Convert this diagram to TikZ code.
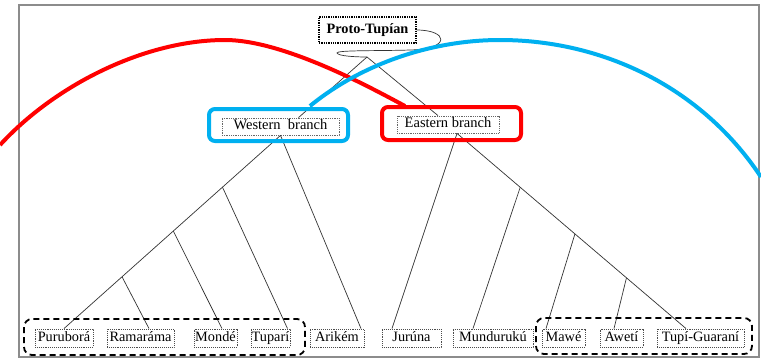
\documentclass[tikz,border=0pt]{standalone}
\usepackage{fontspec}
\setmainfont{Liberation Serif}
\usetikzlibrary{calc}
\definecolor{hlblue}{RGB}{0,176,240}
\definecolor{hlred}{RGB}{255,0,0}
\definecolor{framegray}{RGB}{140,140,140}
\begin{document}
\begin{tikzpicture}[x=1pt,y=-1pt,
  leaf/.style={draw=black!70, densely dotted, line width=0.9pt, minimum height=18pt, inner sep=0pt,
    font=\fontsize{14.3}{16}\selectfont, text height=9.8pt, text depth=3pt},
  branchbox/.style={draw=black!60, densely dotted, line width=0.8pt, minimum height=17pt, inner sep=0pt,
    font=\fontsize{14.5}{16}\selectfont, text height=9.8pt, text depth=3pt},
  rootbox/.style={draw=black, densely dotted, line width=1.3pt, minimum height=26pt, minimum width=97pt,
    inner sep=0pt, font=\fontsize{14.3}{16}\selectfont\bfseries},
  tree/.style={draw=black!80, line width=0.7pt},
  hl/.style={draw=#1, line width=4pt, rounded corners=6pt, inner sep=0pt},
  grp/.style={draw=black, line width=1.8pt, dash pattern=on 6pt off 4pt, rounded corners=8pt},
  bigarc/.style={draw=#1, line width=4pt},
  framebox/.style={draw=framegray, line width=1.5pt}]
\useasboundingbox (0,0) rectangle (761,360);
\fill[white] (0,0) rectangle (761,360);
\draw[framebox] (19,5) rectangle (759,357);

% root and branches
\node[rootbox] (proto) at (367.5,30) {Proto-Tupían};
\node[branchbox, minimum width=117pt] (west) at (280.5,126.5) {Western\ \ branch};
\node[branchbox, minimum width=102pt] (east) at (448,124.5) {Eastern branch};

% leaves
\node[leaf, minimum width=58pt] (pur) at (64,338) {Puruborá};
\node[leaf, minimum width=67pt] (ram) at (140.5,338) {Ramaráma};
\node[leaf, minimum width=43pt] (mon) at (215.5,338) {Mondé};
\node[leaf, minimum width=39pt] (tup) at (270.5,338) {Tuparí};
\node[leaf, minimum width=54pt] (ari) at (337,338) {Arikém};
\node[leaf, minimum width=59pt] (jur) at (411.5,338) {Jurúna};
\node[leaf, minimum width=80pt] (mun) at (493,338) {Mundurukú};
\node[leaf, minimum width=43pt] (maw) at (563.5,338) {Mawé};
\node[leaf, minimum width=43pt] (awe) at (621.5,338) {Awetí};
\node[leaf, minimum width=87pt] (tg) at (700.5,338) {Tupí-Guaraní};

% tree
\coordinate (apex) at (367,57);
\draw[tree] (proto.east) .. controls (448,30) and (452,49) .. (410,50)
  .. controls (380,51) and (336,50) .. (337,53)
  .. controls (338,56) and (355,57) .. (apex);
\draw[tree] (apex) -- ([xshift=18pt]west.north);
\draw[tree] (apex) -- ([xshift=-10pt]east.north);

\coordinate (wb) at (west.south);
\coordinate (w1) at ($(wb)!0.268!(pur.north)$);
\coordinate (w2) at ($(wb)!0.495!(pur.north)$);
\coordinate (w3) at ($(wb)!0.732!(pur.north)$);
\draw[tree] (wb) -- (pur.north);
\draw[tree] (w1) -- ([xshift=17pt]tup.north);
\draw[tree] (w2) -- ([xshift=6.5pt]mon.north);
\draw[tree] (w3) -- ([xshift=8.5pt]ram.north);
\draw[tree] (wb) -- ([xshift=24pt]ari.north);

\coordinate (eb) at ([xshift=9pt]east.south);
\coordinate (e1) at ($(eb)!0.276!([xshift=-14.5pt]tg.north)$);
\coordinate (e2) at ($(eb)!0.515!([xshift=-14.5pt]tg.north)$);
\coordinate (e3) at ($(eb)!0.74!([xshift=-14.5pt]tg.north)$);
\draw[tree] (eb) -- ([xshift=-14.5pt]tg.north);
\draw[tree] (eb) -- ([xshift=-19.5pt]jur.north);
\draw[tree] (e1) -- ([xshift=-20pt]mun.north);
\draw[tree] (e2) -- ([xshift=-17.5pt]maw.north);
\draw[tree] (e3) -- ([xshift=-7.5pt]awe.north);

% groups
\draw[grp] (24,319) rectangle (305,355);
\draw[grp] (536,318) rectangle (752,354);

% highlights
\node[hl=hlblue, minimum width=139pt, minimum height=32pt] (wbox) at (278.5,125) {};
\node[hl=hlred, minimum width=139pt, minimum height=33pt] (ebox) at (451.5,123.5) {};

\draw[bigarc=hlred] (0,145) .. controls (55,85) and (145,40) .. (225,40)
  .. controls (285,40) and (375,90) .. (405,106);
\draw[bigarc=hlblue] (310,106) .. controls (360,65) and (430,40) .. (500,40)
  .. controls (600,40) and (700,85) .. (761,177);
\end{tikzpicture}
\end{document}
